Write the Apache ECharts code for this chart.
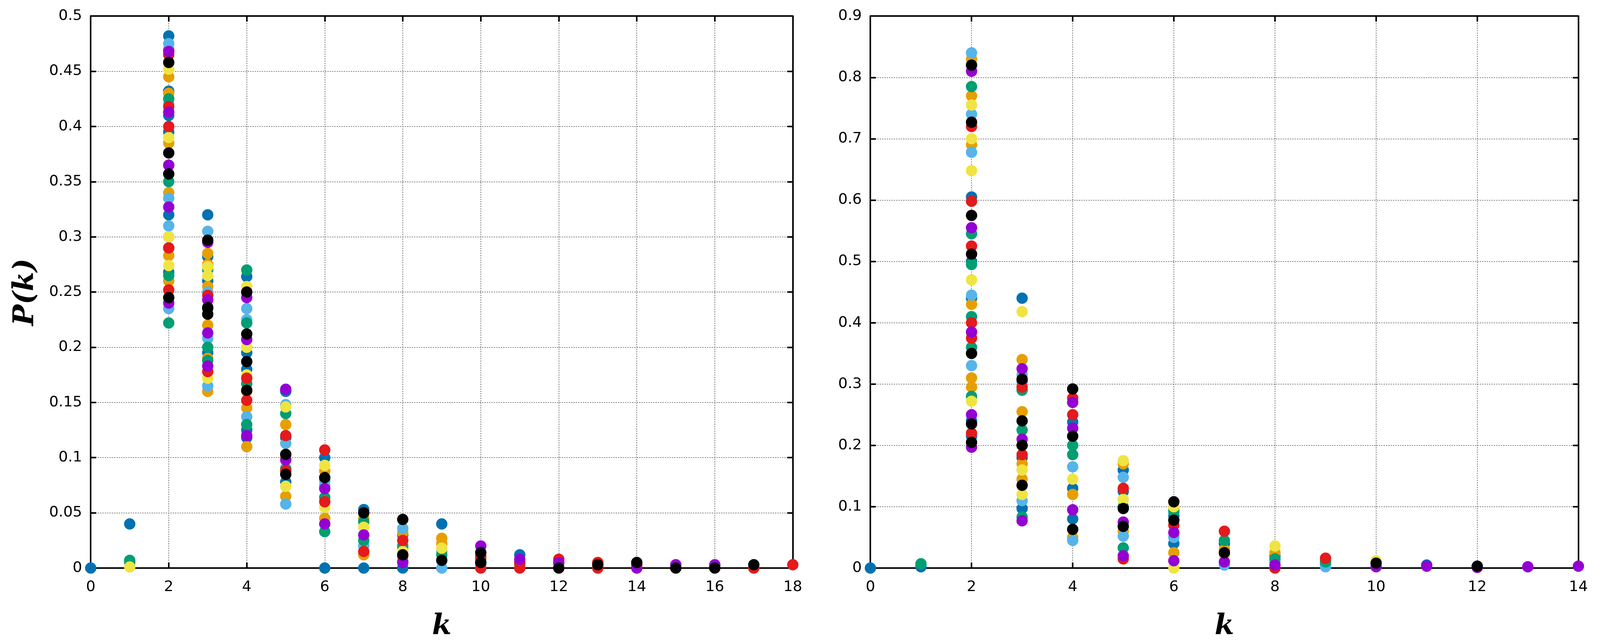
<!DOCTYPE html>
<html lang="en">
<head>
<meta charset="UTF-8">
<title>P(k)</title>
<script src="https://cdn.jsdelivr.net/npm/echarts@6/dist/echarts.min.js"></script>
<style>html,body{margin:0;padding:0;background:#fff;overflow:hidden}#chart{width:100vw;height:100vh}</style>
</head>
<body>
<div id="chart"></div>
<script>
var colors = ['#0072B2', '#E69F00', '#56B4E9', '#009E73', '#F0E442', '#E41A1C', '#9400D3', '#000000'];

// left panel: [k, P(k)] per colour
var leftBlue   = [[0,0],[1,0.04],[2,0.482],[2,0.47],[2,0.432],[2,0.41],[2,0.395],[2,0.32],[2,0.3],[2,0.268],[3,0.32],[3,0.282],[3,0.26],[3,0.235],[3,0.195],[4,0.264],[4,0.195],[4,0.18],[4,0.125],[4,0.118],[5,0.16],[5,0.118],[5,0.078],[6,0],[6,0.1],[7,0],[7,0.053],[8,0],[8,0.03],[9,0.04],[10,0.008],[11,0.012],[12,0.002],[13,0.002],[14,0.001],[16,0.002]];
var leftOrange = [[2,0.47],[2,0.445],[2,0.43],[2,0.385],[2,0.365],[2,0.34],[2,0.283],[2,0.26],[3,0.285],[3,0.275],[3,0.255],[3,0.22],[3,0.19],[3,0.16],[4,0.25],[4,0.16],[4,0.145],[4,0.11],[5,0.13],[5,0.1],[5,0.065],[6,0.088],[6,0.045],[7,0.045],[7,0.012],[8,0.032],[8,0.018],[9,0.027],[9,0.022],[10,0.012],[11,0.004],[12,0.004],[13,0.003],[14,0.002]];
var leftSky    = [[2,0.475],[2,0.42],[2,0.335],[2,0.31],[2,0.235],[3,0.305],[3,0.25],[3,0.208],[3,0.165],[4,0.235],[4,0.225],[4,0.137],[5,0.148],[5,0.113],[5,0.058],[6,0.079],[6,0.075],[7,0.02],[8,0.036],[9,0],[9,0.015],[10,0.005],[11,0.006],[12,0.003]];
var leftGreen  = [[1,0.007],[1,0.005],[2,0.425],[2,0.35],[2,0.29],[2,0.265],[2,0.222],[3,0.27],[3,0.2],[3,0.188],[4,0.27],[4,0.222],[4,0.167],[4,0.13],[5,0.14],[5,0.09],[6,0.064],[6,0.033],[7,0.042],[7,0.025],[8,0.02],[8,0.006],[9,0.012],[10,0.004],[11,0.003]];
var leftYellow = [[1,0.001],[2,0.452],[2,0.39],[2,0.3],[2,0.274],[3,0.273],[3,0.265],[3,0.172],[4,0.255],[4,0.2],[4,0.175],[5,0.146],[5,0.074],[6,0.093],[6,0.055],[7,0.037],[8,0.015],[9,0.018],[10,0.01],[12,0.001]];
var leftRed    = [[2,0.465],[2,0.418],[2,0.4],[2,0.29],[2,0.252],[3,0.247],[3,0.178],[4,0.172],[4,0.152],[5,0.12],[5,0.088],[6,0.107],[6,0.06],[7,0.015],[8,0.011],[8,0.025],[10,0],[10,0.01],[11,0],[11,0.005],[12,0.008],[13,0.005],[13,0],[14,0.003],[17,0],[18,0.003]];
var leftPurple = [[2,0.468],[2,0.413],[2,0.365],[2,0.327],[2,0.24],[3,0.295],[3,0.243],[3,0.213],[3,0.183],[4,0.245],[4,0.207],[4,0.12],[5,0.162],[5,0.098],[6,0.072],[6,0.04],[7,0.03],[8,0.005],[10,0.02],[11,0.008],[12,0.005],[14,0],[15,0.003],[16,0.003]];
var leftBlack  = [[2,0.458],[2,0.376],[2,0.357],[2,0.245],[3,0.297],[3,0.236],[3,0.23],[4,0.25],[4,0.212],[4,0.187],[4,0.161],[5,0.103],[5,0.085],[6,0.082],[7,0.05],[8,0.044],[8,0.012],[9,0.007],[10,0.014],[10,0.005],[12,0],[13,0.003],[14,0.005],[15,0],[16,0],[17,0.003]];

// right panel: [k, P(k)] per colour
var rightBlue   = [[0,0],[1,0.002],[2,0.605],[2,0.5],[2,0.44],[2,0.24],[2,0.215],[3,0.44],[3,0.305],[3,0.18],[3,0.097],[4,0.238],[4,0.13],[4,0.08],[5,0.16],[5,0.125],[6,0.04],[6,0.085],[7,0.04],[8,0.02],[9,0.005],[11,0.005]];
var rightOrange = [[2,0.83],[2,0.77],[2,0.69],[2,0.43],[2,0.31],[2,0.295],[3,0.34],[3,0.255],[3,0.17],[3,0.145],[4,0.12],[4,0.05],[5,0.06],[5,0.17],[6,0.025],[6,0.095],[7,0.03],[8,0.025],[9,0.012]];
var rightSky    = [[2,0.84],[2,0.74],[2,0.678],[2,0.445],[2,0.33],[3,0.315],[3,0.11],[4,0.165],[4,0.045],[5,0.148],[5,0.052],[6,0.05],[7,0.005],[8,0.01],[9,0.002]];
var rightGreen  = [[1,0.007],[2,0.785],[2,0.545],[2,0.495],[2,0.41],[2,0.36],[2,0.28],[3,0.29],[3,0.225],[3,0.083],[4,0.185],[4,0.2],[5,0.033],[5,0.1],[6,0.092],[7,0.045],[8,0.015],[9,0.01],[12,0.002]];
var rightYellow = [[2,0.755],[2,0.7],[2,0.648],[2,0.47],[2,0.38],[2,0.272],[3,0.418],[3,0.16],[3,0.12],[4,0.145],[5,0.175],[5,0.112],[6,0],[6,0.1],[7,0.02],[8,0.036],[10,0.012]];
var rightRed    = [[2,0.72],[2,0.598],[2,0.525],[2,0.4],[2,0.375],[2,0.22],[3,0.295],[3,0.185],[4,0.277],[4,0.25],[5,0.13],[5,0.015],[6,0.07],[7,0.06],[8,0],[9,0.016]];
var rightPurple = [[2,0.81],[2,0.555],[2,0.385],[2,0.25],[2,0.197],[3,0.325],[3,0.21],[3,0.077],[4,0.27],[4,0.228],[4,0.095],[5,0.075],[5,0.02],[6,0.058],[6,0.012],[7,0.01],[8,0.005],[10,0.002],[11,0.003],[12,0.001],[13,0.002],[14,0.003]];
var rightBlack  = [[2,0.82],[2,0.727],[2,0.575],[2,0.512],[2,0.35],[2,0.235],[2,0.205],[3,0.308],[3,0.24],[3,0.2],[3,0.135],[4,0.292],[4,0.215],[4,0.063],[5,0.097],[5,0.068],[6,0.108],[6,0.078],[7,0.025],[10,0.008],[12,0.003]];

var leftSets = [leftBlue, leftOrange, leftSky, leftGreen, leftYellow, leftRed, leftPurple, leftBlack];
var rightSets = [rightBlue, rightOrange, rightSky, rightGreen, rightYellow, rightRed, rightPurple, rightBlack];

var labelFont = {fontFamily: 'Liberation Sans Narrow, DejaVu Sans', fontSize: 38, color: '#000'};
var nameFont = {fontFamily: 'DejaVu Serif', fontStyle: 'italic', fontWeight: 'bold', fontSize: 72, color: '#000'};
var axisLine = {show: true, onZero: false, lineStyle: {color: '#000', width: 4}};
var gridLine = {show: true, lineStyle: {color: '#777', type: [3, 3], width: 2}};
var tick = {show: true, inside: true, length: 14, lineStyle: {color: '#000', width: 4}};

function xAxes(gi, max) {
    return [
        {gridIndex: gi, type: 'value', min: 0, max: max, interval: 2, name: 'k', nameLocation: 'middle', nameGap: 115,
         nameTextStyle: nameFont, axisLine: axisLine, axisTick: tick, axisLabel: Object.assign({margin: 30}, labelFont), splitLine: gridLine},
        {gridIndex: gi, type: 'value', position: 'top', min: 0, max: max, interval: 2,
         axisLine: axisLine, axisTick: tick, axisLabel: {show: false}, splitLine: {show: false}}
    ];
}
function yAxes(gi, max, step, name) {
    return [
        {gridIndex: gi, type: 'value', min: 0, max: max, interval: step, name: name, nameLocation: 'middle', nameGap: 130,
         nameTextStyle: nameFont, axisLine: axisLine, axisTick: tick, axisLabel: Object.assign({margin: 22}, labelFont), splitLine: gridLine},
        {gridIndex: gi, type: 'value', position: 'right', min: 0, max: max, interval: step,
         axisLine: axisLine, axisTick: tick, axisLabel: {show: false}, splitLine: {show: false}}
    ];
}

var series = [];
leftSets.forEach(function (d, i) {
    series.push({type: 'scatter', xAxisIndex: 0, yAxisIndex: 0, data: d, symbolSize: 29, itemStyle: {color: colors[i], opacity: 1}});
});
rightSets.forEach(function (d, i) {
    series.push({type: 'scatter', xAxisIndex: 2, yAxisIndex: 2, data: d, symbolSize: 29, itemStyle: {color: colors[i], opacity: 1}});
});

var mychart = echarts.init(document.getElementById('chart'));
mychart.setOption({
    animation: false,
    backgroundColor: '#fff',
    grid: [
        {left: '5.67%', right: '50.45%', top: '2.5%', bottom: '11.2%'},
        {left: '54.4%', right: '1.35%', top: '2.5%', bottom: '11.2%'}
    ],
    xAxis: xAxes(0, 18).concat(xAxes(1, 14)),
    yAxis: yAxes(0, 0.5, 0.05, 'P(k)').concat(yAxes(1, 0.9, 0.1, '')),
    series: series
});
</script>
</body>
</html>
